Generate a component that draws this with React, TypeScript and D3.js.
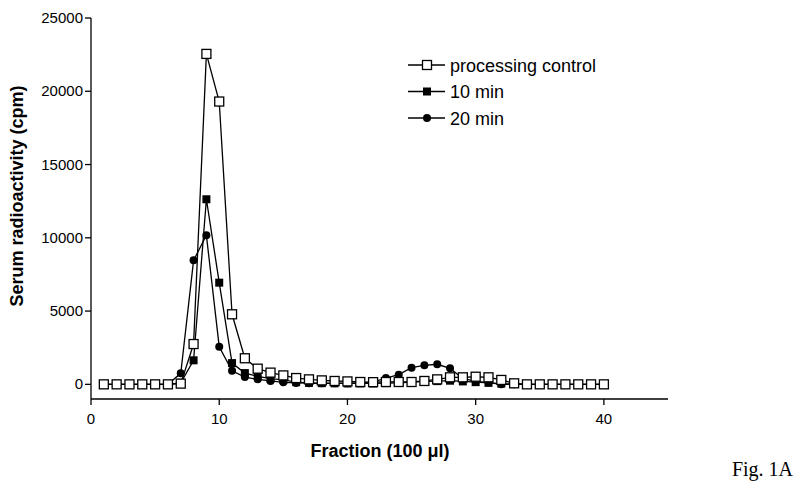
import React from 'react';
import * as d3 from 'd3';

const fractions = d3.range(1, 41);

const controlValues = [
  0, 0, 0, 0, 0, 0, 50, 2750, 22550, 19300,
  4780, 1780, 1070, 800, 610, 430, 340, 270, 230, 200,
  160, 150, 160, 160, 160, 230, 340, 480, 480, 520,
  480, 300, 70, 0, 0, 0, 0, 0, 0, 0,
];

const min10Values = [
  0, 0, 0, 0, 0, 0, 100, 1640, 12630, 6940,
  1450, 770, 550, 390, 300, 150, 100, 80, 70, 60,
  60, 60, 80, 100, 150, 200, 220, 250, 200, 150,
  100, 50, 20, 0, 0, 0, 0, 0, 0, 0,
];

const min20Values = [
  0, 0, 0, 0, 0, 0, 750, 8460, 10170, 2570,
  920, 500, 340, 230, 140, 100, 80, 70, 70, 80,
  100, 150, 430, 660, 1140, 1300, 1370, 1090, 400, 200,
  120, 0, 0, 0, 0, 0, 0, 0, 0, 0,
];

const yTickValues = [0, 5000, 10000, 15000, 20000, 25000];
const xTickValues = [0, 10, 20, 30, 40];

type Marker = 'openSquare' | 'filledSquare' | 'circle';

const seriesList: { name: string; values: number[]; marker: Marker }[] = [
  { name: '20 min', values: min20Values, marker: 'circle' },
  { name: '10 min', values: min10Values, marker: 'filledSquare' },
  { name: 'processing control', values: controlValues, marker: 'openSquare' },
];

const legendOrder: { name: string; marker: Marker }[] = [
  { name: 'processing control', marker: 'openSquare' },
  { name: '10 min', marker: 'filledSquare' },
  { name: '20 min', marker: 'circle' },
];

function MarkerShape({ type, x, y }: { type: Marker; x: number; y: number }) {
  if (type === 'circle') return <circle cx={x} cy={y} r={4} fill="#000" />;
  if (type === 'filledSquare') return <rect x={x - 4} y={y - 4} width={8} height={8} fill="#000" />;
  return <rect x={x - 4.5} y={y - 4.5} width={9} height={9} fill="#fff" stroke="#000" strokeWidth={1.3} />;
}

export default function App() {
  const width = 800;
  const height = 489;
  const left = 91;
  const right = 668;
  const top = 18;
  const bottom = 399;

  const x = d3.scaleLinear().domain([0, 45]).range([left, right]);
  const y = d3.scaleLinear().domain([-1000, 25000]).range([bottom, top]);

  const line = d3.line<number>()
    .x((_, i) => x(fractions[i]))
    .y(d => y(d));

  const font = 'Arial, "Liberation Sans", Helvetica, sans-serif';
  const yLabelY = 196;

  return (
    <svg
      width={width}
      height={height}
      style={{ position: 'absolute', left: 0, top: 0, background: '#fff' }}
      fontFamily={font}
    >
      {/* Y axis */}
      <line x1={left} x2={left} y1={top} y2={bottom} stroke="#000" strokeWidth={1.3} />
      {yTickValues.map(t => (
        <g key={t}>
          <line x1={left - 6} x2={left} y1={y(t)} y2={y(t)} stroke="#000" strokeWidth={1.3} />
          <text x={left - 8} y={y(t) + 5} textAnchor="end" fontSize={15} fill="#000">{t}</text>
        </g>
      ))}
      <text
        x={23}
        y={yLabelY}
        textAnchor="middle"
        fontWeight="bold"
        fontSize={18}
        transform={`rotate(-90 23,${yLabelY})`}
      >
        Serum radioactivity (cpm)
      </text>

      {/* X axis */}
      <line x1={left} x2={right} y1={bottom} y2={bottom} stroke="#000" strokeWidth={1.3} />
      {xTickValues.map(t => (
        <g key={t}>
          <line x1={x(t)} x2={x(t)} y1={bottom} y2={bottom + 6} stroke="#000" strokeWidth={1.3} />
          <text x={x(t)} y={bottom + 25} textAnchor="middle" fontSize={15} fill="#000">{t}</text>
        </g>
      ))}
      <text x={380} y={457} textAnchor="middle" fontWeight="bold" fontSize={18}>
        Fraction (100 μl)
      </text>

      {/* Series */}
      {seriesList.map(s => (
        <g key={s.name}>
          <path d={line(s.values) || ''} fill="none" stroke="#000" strokeWidth={1.3} />
          {s.values.map((v, i) => (
            <MarkerShape key={i} type={s.marker} x={x(fractions[i])} y={y(v)} />
          ))}
        </g>
      ))}

      {/* Legend */}
      {legendOrder.map((item, i) => {
        const ly = 65 + i * 26.5;
        return (
          <g key={item.name}>
            <line x1={408} x2={445} y1={ly} y2={ly} stroke="#000" strokeWidth={1.3} />
            <MarkerShape type={item.marker} x={427} y={ly} />
            <text x={450} y={ly + 6.5} fontSize={18}>{item.name}</text>
          </g>
        );
      })}

      <text x={793} y={476} textAnchor="end" fontFamily='"Times New Roman", "Liberation Serif", serif' fontSize={20}>
        Fig. 1A
      </text>
    </svg>
  );
}
